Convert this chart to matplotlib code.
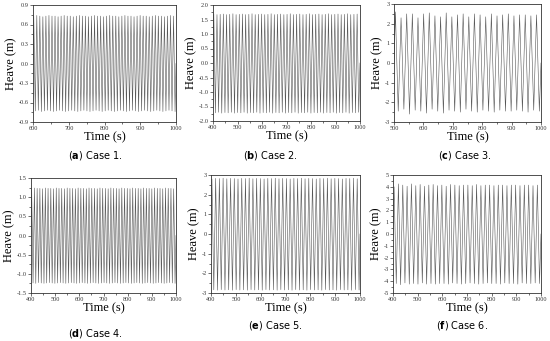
import numpy as np
import matplotlib
matplotlib.use("Agg")
import matplotlib.pyplot as plt
from matplotlib.ticker import MultipleLocator, AutoMinorLocator, FormatStrFormatter

# per-cycle crest / trough heave values (m)
cases = ["Case 1.", "Case 2.", "Case 3.", "Case 4.", "Case 5.", "Case 6."]
letters = ["a", "b", "c", "d", "e", "f"]

t_start = [600, 400, 500, 400, 400, 400]
t_end = [1000, 1000, 1000, 1000, 1000, 1000]
period = [8.5, 13.0, 19.2, 11.3, 15.0, 17.6]

crest_1 = [0.73, 0.74, 0.73, 0.72, 0.73, 0.74, 0.73, 0.73, 0.72, 0.73, 0.74, 0.73,
           0.73, 0.72, 0.73, 0.74, 0.73, 0.73, 0.72, 0.73, 0.74, 0.73, 0.73, 0.72,
           0.73, 0.74, 0.73, 0.73, 0.72, 0.73, 0.74, 0.73, 0.73, 0.72, 0.73, 0.74,
           0.73, 0.73, 0.72, 0.73, 0.74, 0.73, 0.73, 0.72, 0.73, 0.74, 0.73]
trough_1 = [-0.73, -0.72, -0.74, -0.73, -0.72, -0.73, -0.74, -0.73, -0.72, -0.73,
            -0.74, -0.73, -0.72, -0.73, -0.74, -0.73, -0.72, -0.73, -0.74, -0.73,
            -0.72, -0.73, -0.74, -0.73, -0.72, -0.73, -0.74, -0.73, -0.72, -0.73,
            -0.74, -0.73, -0.72, -0.73, -0.74, -0.73, -0.72, -0.73, -0.74, -0.73,
            -0.72, -0.73, -0.74, -0.73, -0.72, -0.73, -0.74]

crest_2 = [1.70, 1.67, 1.68, 1.69, 1.67, 1.68, 1.70, 1.67, 1.68, 1.69, 1.67, 1.68,
           1.70, 1.67, 1.68, 1.69, 1.67, 1.68, 1.70, 1.67, 1.68, 1.69, 1.67, 1.68,
           1.70, 1.67, 1.68, 1.69, 1.67, 1.68, 1.70, 1.67, 1.68, 1.69, 1.67, 1.68,
           1.70, 1.67, 1.68, 1.69, 1.67, 1.68, 1.70, 1.67, 1.68, 1.69]
trough_2 = [-1.72, -1.70, -1.73, -1.71, -1.72, -1.70, -1.73, -1.71, -1.72, -1.70,
            -1.73, -1.71, -1.72, -1.70, -1.73, -1.71, -1.72, -1.70, -1.73, -1.71,
            -1.72, -1.70, -1.73, -1.71, -1.72, -1.70, -1.73, -1.71, -1.72, -1.70,
            -1.73, -1.71, -1.72, -1.70, -1.73, -1.71, -1.72, -1.70, -1.73, -1.71,
            -1.72, -1.70, -1.73, -1.71, -1.72, -1.70]

crest_3 = [2.60, 2.30, 2.50, 2.50, 2.30, 2.50, 2.55, 2.40, 2.35, 2.55, 2.35, 2.45,
           2.50, 2.35, 2.50, 2.45, 2.35, 2.50, 2.40, 2.45, 2.50, 2.40, 2.45, 2.45,
           2.40, 2.45]
trough_3 = [-2.45, -2.35, -2.60, -2.40, -2.45, -2.55, -2.35, -2.45, -2.55, -2.40,
            -2.45, -2.50, -2.35, -2.45, -2.50, -2.40, -2.45, -2.50, -2.40, -2.45,
            -2.45, -2.40, -2.45, -2.50, -2.40, -2.45]

crest_4 = [1.22, 1.24, 1.23, 1.23, 1.22, 1.24, 1.23, 1.23, 1.22, 1.24, 1.23, 1.23,
           1.22, 1.24, 1.23, 1.23, 1.22, 1.24, 1.23, 1.23, 1.22, 1.24, 1.23, 1.23,
           1.22, 1.24, 1.23, 1.23, 1.22, 1.24, 1.23, 1.23, 1.22, 1.24, 1.23, 1.23,
           1.22, 1.24, 1.23, 1.23, 1.22, 1.24, 1.23, 1.23, 1.22, 1.24, 1.23, 1.23,
           1.22, 1.24, 1.23, 1.23, 1.22]
trough_4 = [-1.24, -1.25, -1.23, -1.24, -1.25, -1.24, -1.23, -1.24, -1.25, -1.24,
            -1.23, -1.24, -1.25, -1.24, -1.23, -1.24, -1.25, -1.24, -1.23, -1.24,
            -1.25, -1.24, -1.23, -1.24, -1.25, -1.24, -1.23, -1.24, -1.25, -1.24,
            -1.23, -1.24, -1.25, -1.24, -1.23, -1.24, -1.25, -1.24, -1.23, -1.24,
            -1.25, -1.24, -1.23, -1.24, -1.25, -1.24, -1.23, -1.24, -1.25, -1.24,
            -1.23, -1.24, -1.25]

crest_5 = [2.80, 2.83, 2.82, 2.84, 2.81, 2.83, 2.82, 2.80, 2.83, 2.82, 2.84, 2.81,
           2.83, 2.82, 2.80, 2.83, 2.82, 2.84, 2.81, 2.83, 2.82, 2.80, 2.83, 2.82,
           2.84, 2.81, 2.83, 2.82, 2.80, 2.83, 2.82, 2.84, 2.81, 2.83, 2.82, 2.80,
           2.83, 2.82, 2.84, 2.81]
trough_5 = [-2.84, -2.86, -2.83, -2.85, -2.84, -2.86, -2.83, -2.85, -2.84, -2.86,
            -2.83, -2.85, -2.84, -2.86, -2.83, -2.85, -2.84, -2.86, -2.83, -2.85,
            -2.84, -2.86, -2.83, -2.85, -2.84, -2.86, -2.83, -2.85, -2.84, -2.86,
            -2.83, -2.85, -2.84, -2.86, -2.83, -2.85, -2.84, -2.86, -2.83, -2.85]

crest_6 = [4.00, 4.25, 4.15, 4.05, 4.25, 4.10, 4.20, 4.05, 4.15, 4.20, 4.10, 4.15,
           4.05, 4.20, 4.15, 4.10, 4.15, 4.15, 4.10, 4.20, 4.10, 4.15, 4.15, 4.10,
           4.15, 4.15, 4.10, 4.15, 4.15, 4.10, 4.15, 4.15, 4.10, 4.15]
trough_6 = [-4.20, -4.30, -4.15, -4.25, -4.20, -4.25, -4.15, -4.25, -4.20, -4.25,
            -4.20, -4.20, -4.25, -4.15, -4.20, -4.25, -4.20, -4.15, -4.20, -4.25,
            -4.20, -4.15, -4.20, -4.20, -4.25, -4.15, -4.20, -4.20, -4.25, -4.15,
            -4.20, -4.20, -4.15, -4.20]

crests = [crest_1, crest_2, crest_3, crest_4, crest_5, crest_6]
troughs = [trough_1, trough_2, trough_3, trough_4, trough_5, trough_6]

y_lim = [0.9, 2.0, 3, 1.5, 3, 5]
y_step = [0.3, 0.5, 1, 0.5, 1, 1]
y_fmt = ["%.1f", "%.1f", "%d", "%.1f", "%d", "%d"]

# axes boxes in pixels: left, right, top, bottom
boxes = [(33, 176, 5, 122), (213, 360, 5, 121), (394, 541, 4, 122),
         (31, 176, 178, 293), (211, 360, 175, 293), (393, 541, 175, 293)]
caption_xy = [(95, 155), (270, 155), (465, 155), (95, 333), (275, 325), (462, 325)]

W, H = 550, 341
plt.rcParams['font.family'] = ['Liberation Serif', 'DejaVu Serif']
fig = plt.figure(figsize=(W / 100, H / 100), dpi=100)

for k in range(6):
    l, r, t, b = boxes[k]
    ax = fig.add_axes([l / W, 1 - b / H, (r - l) / W, (b - t) / H])

    # alternate crest / trough half a period apart
    n = len(crests[k])
    tt = t_start[k] + period[k] * np.arange(2 * n) / 2.0 + period[k] / 4
    yy = np.empty(2 * n)
    yy[0::2] = crests[k]
    yy[1::2] = troughs[k]
    tt = np.concatenate([[t_start[k]], tt, [t_end[k]]])
    yy = np.concatenate([[0.0], yy, [0.0]])
    ax.plot(tt, yy, color="#555555", lw=0.4)

    ax.set_xlim(t_start[k], t_end[k])
    ax.set_ylim(-y_lim[k], y_lim[k])
    ax.xaxis.set_major_locator(MultipleLocator(100))
    ax.yaxis.set_major_locator(MultipleLocator(y_step[k]))
    ax.xaxis.set_minor_locator(AutoMinorLocator(2))
    ax.yaxis.set_minor_locator(AutoMinorLocator(2))
    ax.yaxis.set_major_formatter(FormatStrFormatter(y_fmt[k]))
    ax.tick_params(which="major", direction="out", length=2, width=0.5,
                   labelsize=4.5, pad=1, colors="#333333")
    ax.tick_params(which="minor", direction="out", length=1.2, width=0.4)
    for s in ax.spines.values():
        s.set_linewidth(0.6)
        s.set_color("#333333")
    ax.set_xlabel("Time (s)", fontsize=9, labelpad=0)
    ax.set_ylabel("Heave (m)", fontsize=9, labelpad=1)

    cx, cy = caption_xy[k]
    fig.text(cx / W, 1 - cy / H, "(" + r"$\mathbf{" + letters[k] + "}$" + ") " + cases[k],
             ha="center", va="center", fontsize=7, family="DejaVu Sans")

fig.savefig("out.png", dpi=100)
